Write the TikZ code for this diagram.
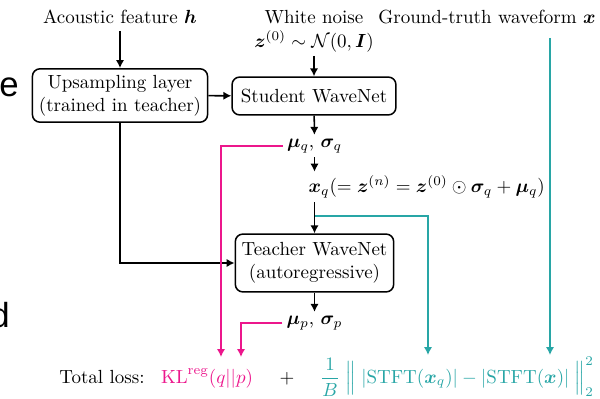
\documentclass[tikz,border=0pt]{standalone}
\usepackage{amsmath,bm}
\usepackage{fontspec}
\newfontfamily\strayfont{Liberation Sans}
\usetikzlibrary{positioning,arrows.meta}
\definecolor{losspink}{RGB}{236,22,140}
\definecolor{lossteal}{RGB}{40,166,166}
\tikzset{
  netbox/.style={draw, thick, rounded corners=4pt, align=center},
  flow/.style={->, thick},
  val/.style={inner sep=2pt},
}
\begin{document}
\begin{tikzpicture}[x=0.0185cm, y=-0.0185cm, >={Latex[length=4.2pt,width=4.4pt]}]
    \useasboundingbox (0,0) rectangle (600,399);
    % 左端に切れて残った文字
    \node[anchor=base west, inner sep=0, font=\strayfont\fontsize{18.3}{20}\selectfont] (cute) at (-1,97) {e};
    \node[anchor=base west, inner sep=0, font=\strayfont\fontsize{18.3}{20}\selectfont] (cutd) at (-10,328) {d};
    % 入力
    \node[anchor=base] (ac) at (120,24) {Acoustic feature $\bm{h}$};
    \node[anchor=base] (wn) at (314,24) {White noise};
    \node[val] (zn) at (314,41) {$\bm{z}^{(0)}\sim\mathcal{N}(0,\bm{I})$};
    \node[anchor=base] (gt) at (487,24) {Ground-truth waveform $\bm{x}$};
    % ネットワーク
    \node[netbox, minimum width=3.24cm, minimum height=0.91cm] (up) at (120,95.5) {Upsampling layer\\(trained in teacher)};
    \node[netbox, minimum width=3.03cm, minimum height=0.70cm] (student) at (314,96) {Student WaveNet};
    \node[netbox, minimum width=2.90cm, minimum height=1.07cm] (teacher) at (314.5,263) {Teacher WaveNet\\(autoregressive)};
    % 中間出力
    \node[val] (muq) at (314.5,146) {$\bm{\mu}_q$, $\bm{\sigma}_q$};
    \node[val, anchor=west] (xq) at (304.5,187) {$\bm{x}_q(=\bm{z}^{(n)}=\bm{z}^{(0)}\odot\bm{\sigma}_q+\bm{\mu}_q)$};
    \node[val] (mup) at (314.5,323) {$\bm{\mu}_p$, $\bm{\sigma}_p$};
    % 損失
    \node[anchor=base] (tl) at (102,383) {Total loss:};
    \node[anchor=base, text=losspink] (kl) at (207,383) {$\mathrm{KL}^{\mathrm{reg}}(q||p)$};
    \node[anchor=base] (plus) at (287,383) {$+$};
    \node[anchor=base, text=lossteal] (stft) at (457,383) {$\displaystyle\frac{1}{B}\;\Big\|\;|\mathrm{STFT}(\bm{x}_q)|-|\mathrm{STFT}(\bm{x})|\;\Big\|_2^2$};
    \coordinate (klq) at (221,357);
    \coordinate (klp) at (241,357);
    \coordinate (split) at (315,216);
    \coordinate (stq) at (428,355);
    \coordinate (gtx) at (550,38);
    \coordinate (stx) at (550,355);
    % 黒の矢印
    \draw[flow] (ac) -- (up);
    \draw[flow] (zn) -- (student);
    \draw[flow] (up) -- (student);
    \draw[flow] (student) -- (muq);
    \draw[flow] (muq) -- (muq |- xq.north);
    \draw[flow] (xq.south -| teacher.north) -- (teacher);
    \draw[flow] (up.south) |- (teacher.west);
    \draw[flow] (teacher) -- (mup);
    % 損失への矢印
    \draw[flow, losspink] (muq.west) -| (klq);
    \draw[flow, losspink] (mup.west) -| (klp);
    \draw[flow, lossteal] (split) -| (stq);
    \draw[flow, lossteal] (gtx) -- (stx);
  \end{tikzpicture}
\end{document}
